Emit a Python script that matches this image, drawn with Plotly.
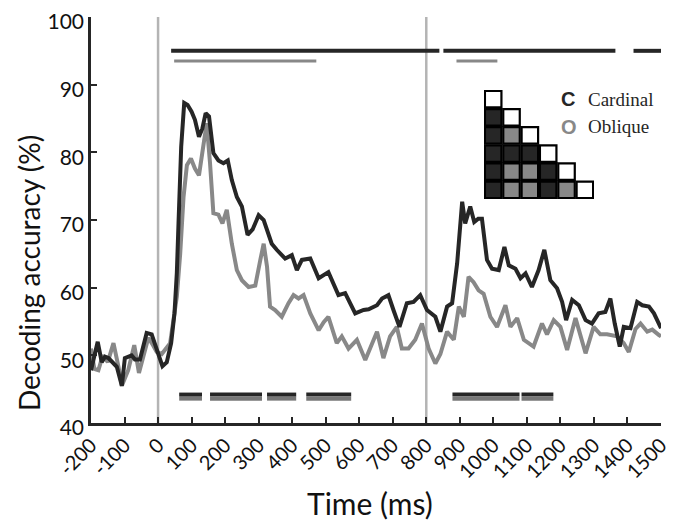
import plotly.graph_objects as go

# ---------------- data ----------------
card_t = [-200, -180, -168, -158, -148, -123, -108, -99, -79, -69, -54, -34, -19, -4, 13, 26, 39, 49, 56, 61,
          69, 78, 88, 100, 110, 122, 132, 142, 152, 165, 180, 195, 208, 220, 235, 250, 267, 282, 300, 315,
          339, 354, 379, 399, 414, 429, 454, 479, 508, 538, 558, 588, 613, 628, 653, 668, 687, 702, 720, 742,
          762, 782, 802, 827, 842, 862, 877, 892, 907, 916, 931, 943, 955, 966, 981, 996, 1016, 1033, 1046, 1066,
          1081, 1096, 1115, 1135, 1152, 1170, 1190, 1205, 1217, 1235, 1255, 1275, 1294, 1314, 1334, 1349, 1362, 1377, 1389, 1409,
          1429, 1444, 1464, 1479, 1494, 1500]
card_v = [47.8, 52.0, 49.0, 49.8, 49.6, 48.3, 45.5, 49.6, 50.0, 49.4, 49.4, 53.3, 53.1, 50.8, 48.4, 49.0, 51.8, 56.2, 62.2, 69.5,
          80.8, 87.3, 87.0, 86.0, 84.8, 82.3, 83.5, 85.8, 85.3, 79.9, 78.8, 78.4, 78.8, 75.9, 73.4, 72.0, 67.8, 68.6, 70.7, 70.0,
          66.5, 65.6, 64.3, 64.8, 62.6, 64.1, 64.3, 61.4, 62.3, 58.9, 59.2, 56.2, 56.7, 56.8, 57.4, 58.4, 58.9, 56.7, 54.2, 57.7,
          57.9, 58.9, 56.7, 55.7, 53.5, 57.2, 57.7, 63.6, 72.7, 69.5, 72.0, 69.7, 70.2, 70.2, 64.1, 62.8, 62.6, 66.0, 63.3, 62.8,
          61.4, 62.1, 60.1, 62.6, 65.6, 61.1, 59.9, 57.9, 55.2, 58.2, 57.4, 55.2, 54.7, 56.2, 56.4, 58.4, 54.7, 51.3, 54.2, 54.0,
          57.9, 57.4, 57.2, 56.2, 54.5, 54.0]

obl_t = [-200, -190, -178, -165, -150, -133, -118, -108, -89, -71, -57, -44, -29, -15, -4, 11, 36, 56, 66, 76,
         86, 98, 110, 122, 135, 145, 155, 165, 180, 192, 205, 220, 235, 250, 270, 290, 305, 315, 325, 334,
         349, 369, 389, 404, 419, 434, 454, 479, 494, 508, 533, 548, 568, 593, 618, 633, 653, 672, 692, 712,
         727, 747, 767, 787, 807, 827, 842, 862, 882, 897, 912, 926, 941, 956, 971, 991, 1011, 1036, 1051, 1071,
         1091, 1120, 1145, 1160, 1180, 1200, 1220, 1245, 1260, 1275, 1299, 1319, 1339, 1369, 1389, 1404, 1424, 1439, 1459, 1474,
         1494, 1500]
obl_v = [51.0, 48.0, 47.8, 50.0, 49.0, 51.8, 48.3, 45.5, 47.8, 51.5, 47.4, 49.8, 52.6, 51.5, 50.5, 50.2, 51.8, 58.7, 65.0, 73.4,
         78.1, 79.1, 77.6, 76.6, 80.8, 84.3, 78.4, 71.0, 70.8, 69.5, 71.5, 66.5, 62.6, 61.1, 60.1, 60.3, 64.1, 66.5, 63.1, 57.2,
         56.7, 55.7, 57.7, 58.9, 58.4, 58.9, 56.2, 53.7, 54.9, 55.7, 51.8, 52.8, 51.0, 52.3, 49.3, 51.1, 53.5, 49.6, 52.8, 54.2,
         51.0, 51.0, 52.3, 54.7, 51.0, 48.8, 50.2, 53.5, 52.3, 57.2, 55.7, 61.6, 60.8, 59.6, 59.1, 55.7, 54.2, 57.4, 54.2, 55.5,
         52.3, 51.3, 54.7, 53.1, 55.2, 54.2, 50.8, 55.5, 53.1, 50.3, 54.2, 53.1, 53.1, 52.8, 51.8, 50.5, 53.9, 54.7, 53.5, 53.8,
         53.0, 52.8]

# significance periods (ms)
sig_card = [(39, 839), (851, 1364), (1418, 1500)]
sig_obl = [(48, 472), (890, 1012)]
sig_diff = [(63, 131), (155, 310), (325, 412), (442, 576), (878, 1078), (1084, 1179)]
sig_level_card = 95.0
sig_level_obl = 93.5
sig_level_diff_top = 44.2
sig_level_diff_bot = 43.6

event_onsets = [0, 800]
x_ticks = list(range(-200, 1501, 100))
y_ticks = list(range(40, 101, 10))

# inset RDM (lower triangle): 0 = white, 1 = cardinal (dark), 2 = oblique (gray)
rdm = [[0],
       [1, 0],
       [1, 2, 0],
       [1, 1, 1, 0],
       [1, 2, 2, 1, 0],
       [1, 2, 2, 1, 2, 0]]

DARK = "#262626"
GRAY = "#888888"
cell_colors = {0: "white", 1: DARK, 2: GRAY}


def segs(intervals, level):
    xs, ys = [], []
    for a, b in intervals:
        xs += [a, b, None]
        ys += [level, level, None]
    return xs, ys


fig = go.Figure()

for x0 in event_onsets:
    fig.add_vline(x=x0, line=dict(color="#b4b4b4", width=2.5), layer="below")

fig.add_trace(go.Scatter(x=obl_t, y=obl_v, mode="lines", line=dict(color=GRAY, width=4),
                         showlegend=False, hoverinfo="skip"))
fig.add_trace(go.Scatter(x=card_t, y=card_v, mode="lines", line=dict(color=DARK, width=4),
                         showlegend=False, hoverinfo="skip"))

xs, ys = segs(sig_card, sig_level_card)
fig.add_trace(go.Scatter(x=xs, y=ys, mode="lines", line=dict(color=DARK, width=4), showlegend=False))
xs, ys = segs(sig_obl, sig_level_obl)
fig.add_trace(go.Scatter(x=xs, y=ys, mode="lines", line=dict(color=GRAY, width=3), showlegend=False))
xs, ys = segs(sig_diff, sig_level_diff_bot)
fig.add_trace(go.Scatter(x=xs, y=ys, mode="lines", line=dict(color="#777777", width=4), showlegend=False))
xs, ys = segs(sig_diff, sig_level_diff_top)
fig.add_trace(go.Scatter(x=xs, y=ys, mode="lines", line=dict(color=DARK, width=4), showlegend=False))

# inset matrix
mx, my, mc = [], [], []
for r, row in enumerate(rdm):
    for c, val in enumerate(row):
        mx.append(c)
        my.append(r)
        mc.append(cell_colors[val])
fig.add_trace(go.Scatter(x=mx, y=my, mode="markers", xaxis="x2", yaxis="y2",
                         marker=dict(symbol="square", size=16.5, color=mc,
                                     line=dict(color="black", width=2.2)),
                         showlegend=False, hoverinfo="skip"))

font_main = "Lato, 'Open Sans', sans-serif"

fig.update_layout(
    width=676, height=513,
    margin=dict(l=83, r=23, t=9, b=98),
    paper_bgcolor="white", plot_bgcolor="white",
    font=dict(family=font_main, color="#222222"),
    xaxis=dict(range=[-200, 1500], tickvals=x_ticks, ticktext=[str(v) for v in x_ticks],
               tickangle=-45, ticks="inside", ticklen=6, tickwidth=2, tickcolor=DARK,
               showline=True, linecolor=DARK, linewidth=2.5, showgrid=False, zeroline=False,
               automargin=False, ticklabeloverflow="allow",
               tickfont=dict(size=20, color="#111111")),
    yaxis=dict(range=[40, 100], tickvals=y_ticks, ticks="inside", ticklen=6, tickwidth=2, tickcolor=DARK,
               showline=True, linecolor=DARK, linewidth=2.5, showgrid=False, zeroline=False,
               automargin=False, ticklabeloverflow="allow", ticklabelshift=5,
               tickfont=dict(size=21, color="#111111")),
    xaxis2=dict(domain=[0.6895, 0.8825], range=[-0.5, 5.5], visible=False, anchor="y2"),
    yaxis2=dict(domain=[0.552, 0.820], range=[5.5, -0.5], visible=False, anchor="x2"),
)

# axis titles
fig.add_annotation(xref="paper", yref="paper", x=0.489, y=-0.198, xanchor="center", yanchor="middle",
                   text="Time (ms)", showarrow=False, font=dict(size=30, color="#111111"))
fig.add_annotation(xref="paper", yref="paper", x=-0.110, y=0.37, xanchor="center", yanchor="middle",
                   text="Decoding accuracy (%)", textangle=-90, showarrow=False,
                   font=dict(size=28, color="#111111"))

# legend for inset
fig.add_annotation(xref="paper", yref="paper", x=0.821, y=0.797, xanchor="left", yanchor="middle",
                   text="<b>C</b>", showarrow=False, font=dict(family="'Liberation Sans', Arial, sans-serif", size=20, color=DARK))
fig.add_annotation(xref="paper", yref="paper", x=0.869, y=0.797, xanchor="left", yanchor="middle",
                   text="Cardinal", showarrow=False, font=dict(family="'Liberation Serif', serif", size=19, color=DARK))
fig.add_annotation(xref="paper", yref="paper", x=0.821, y=0.730, xanchor="left", yanchor="middle",
                   text="<b>O</b>", showarrow=False, font=dict(family="'Liberation Sans', Arial, sans-serif", size=20, color=GRAY))
fig.add_annotation(xref="paper", yref="paper", x=0.869, y=0.730, xanchor="left", yanchor="middle",
                   text="Oblique", showarrow=False, font=dict(family="'Liberation Serif', serif", size=19, color=DARK))

fig.write_html("out.html")
